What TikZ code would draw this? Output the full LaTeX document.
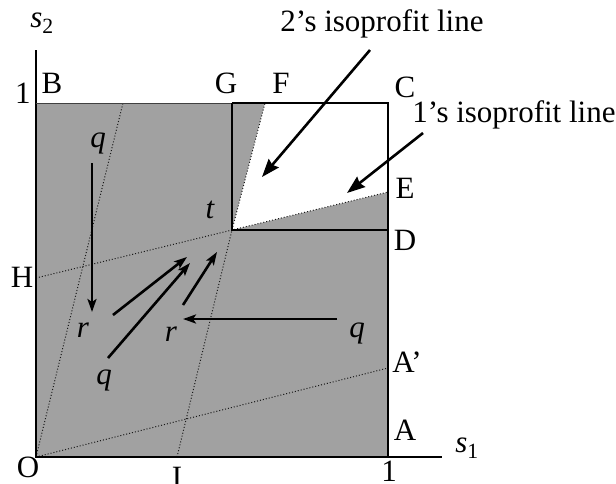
\documentclass[tikz,border=0pt]{standalone}
\usepackage{fontspec}
\setmainfont{Liberation Serif}
\usetikzlibrary{arrows.meta}
\begin{document}
\begin{tikzpicture}[x=1pt,y=-1pt,
  lbl/.style={inner sep=0pt,font=\fontsize{31}{35}\selectfont},
  ilbl/.style={lbl,font=\fontsize{31}{35}\selectfont\itshape},
  border/.style={line width=1.8pt},
  dotline/.style={line width=1pt,dotted,black!90},
  bigarrow/.style={line width=2.6pt,-{Stealth[length=18pt,width=13pt,inset=2pt]}},
  smallarrow/.style={line width=2.6pt,-{Stealth[length=13pt,width=9pt,inset=3pt]}},
  shade/.style={fill=black!37}]
\useasboundingbox (0,0) rectangle (616,483);
% key points
\coordinate (o) at (36,457);
\coordinate (b) at (36,103);
\coordinate (c) at (388,103);
\coordinate (one) at (388,457);
\coordinate (g) at (232,103);
\coordinate (t) at (232,230);
\coordinate (d) at (388,230);
\coordinate (f) at (265,103);
\coordinate (e) at (388,192);
\coordinate (h) at (36,278);
\coordinate (i) at (177,457);
\coordinate (ap) at (388,368);
\coordinate (ftop) at (123,103);
\coordinate (ytop) at (36,50);
\coordinate (xend) at (442,457);
% shading
\fill[shade] (o) -- (b) -- (c) -- (one) -- cycle;
\fill[white] (t) -- (f) -- (c) -- (e) -- cycle;
% dotted lines
\draw[dotline] (o) -- (ftop);
\draw[dotline] (i) -- (t) -- (f);
\draw[dotline] (h) -- (t) -- (e);
\draw[dotline] (o) -- (ap);
% solid lines
\draw[line width=1.6pt] (ytop) -- (o) -- (xend);
\draw[line width=0.9pt,black!75] (b) -- (g);
\draw[border] (g) -- (c) -- (one);
\draw[border] (g) -- (t) -- (d);
% labels
\node[lbl] (s2) at (42,23) {\textit{s}\textsubscript{2}};
\node[lbl] (s1) at (467,448) {\textit{s}\textsubscript{1}};
\node[lbl] (ylab) at (23,93) {1};
\node[lbl] (xlab) at (389,471) {1};
\node[lbl] (B) at (52,83) {B};
\node[lbl] (G) at (226,83) {G};
\node[lbl] (F) at (281,83) {F};
\node[lbl] (C) at (405,87) {C};
\node[lbl] (E) at (405,188) {E};
\node[lbl] (D) at (405,240) {D};
\node[lbl] (A2) at (407,362) {A’};
\node[lbl] (A) at (405,430) {A};
\node[lbl] (O) at (28,467) {O};
\node[lbl] (I) at (177,477) {I};
\node[lbl] (H) at (22,277) {H};
\node[ilbl] (tl) at (210,210) {t};
\node[ilbl] (q1) at (98,143) {q};
\node[ilbl] (r1) at (83,330) {r};
\node[ilbl] (q2) at (104,380) {q};
\node[ilbl] (r2) at (171,334) {r};
\node[ilbl] (q3) at (357,333) {q};
\node[lbl] (L2) at (382,24) {2’s isoprofit line};
\node[lbl] (L1) at (514,115) {1’s isoprofit line};
% arrow end points
\coordinate (a2s) at (370,50);
\coordinate (a2e) at (262,177);
\coordinate (a1s) at (423,133);
\coordinate (a1e) at (347,193);
\coordinate (v1s) at (92,163);
\coordinate (v1e) at (92,312);
\coordinate (d1s) at (113,315);
\coordinate (d1e) at (187,257);
\coordinate (d2s) at (108,358);
\coordinate (d2e) at (190,263);
\coordinate (d3s) at (183,305);
\coordinate (d3e) at (217,252);
\coordinate (hs) at (337,319);
\coordinate (he) at (183,319);
% arrows
\draw[bigarrow] (a2s) -- (a2e);
\draw[bigarrow] (a1s) -- (a1e);
\draw[smallarrow] (v1s) -- (v1e);
\draw[smallarrow] (d1s) -- (d1e);
\draw[smallarrow] (d2s) -- (d2e);
\draw[smallarrow] (d3s) -- (d3e);
\draw[smallarrow] (hs) -- (he);
\end{tikzpicture}
\end{document}
